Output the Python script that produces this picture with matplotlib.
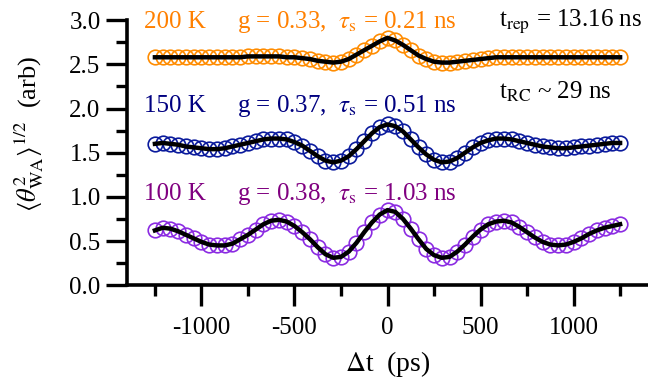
import numpy as np
import matplotlib.pyplot as plt

plt.rcParams['font.family'] = 'serif'
plt.rcParams['font.serif'] = ['Liberation Serif', 'DejaVu Serif']
plt.rcParams['mathtext.fontset'] = 'stix'
plt.rcParams['axes.unicode_minus'] = False

# delay grid (ps)
dt = np.linspace(-1250, 1250, 61)

y_200K = [2.58, 2.58, 2.58, 2.58, 2.58, 2.58, 2.58, 2.58, 2.58, 2.58,
          2.58, 2.58, 2.59, 2.59, 2.59, 2.59, 2.59, 2.58, 2.58, 2.57,
          2.56, 2.54, 2.53, 2.52, 2.53, 2.56, 2.61, 2.66, 2.71, 2.76,
          2.80, 2.77, 2.72, 2.66, 2.60, 2.56, 2.53, 2.52, 2.52, 2.53,
          2.54, 2.55, 2.56, 2.57, 2.58, 2.58, 2.58, 2.58, 2.58, 2.58,
          2.58, 2.58, 2.58, 2.58, 2.58, 2.58, 2.58, 2.58, 2.58, 2.58, 2.58]
y_150K = [1.60, 1.61, 1.60, 1.59, 1.57, 1.56, 1.55, 1.54, 1.54, 1.55,
          1.57, 1.59, 1.61, 1.63, 1.65, 1.66, 1.66, 1.65, 1.62, 1.58,
          1.52, 1.46, 1.41, 1.39, 1.41, 1.46, 1.54, 1.63, 1.72, 1.79,
          1.82, 1.80, 1.74, 1.65, 1.56, 1.48, 1.42, 1.39, 1.40, 1.44,
          1.50, 1.56, 1.61, 1.64, 1.66, 1.66, 1.65, 1.63, 1.61, 1.59,
          1.57, 1.56, 1.55, 1.55, 1.56, 1.57, 1.58, 1.59, 1.60, 1.61, 1.61]
y_100K = [0.62, 0.65, 0.64, 0.61, 0.57, 0.53, 0.49, 0.46, 0.45, 0.45,
          0.47, 0.52, 0.57, 0.63, 0.69, 0.73, 0.74, 0.72, 0.67, 0.60,
          0.52, 0.43, 0.35, 0.31, 0.32, 0.38, 0.48, 0.60, 0.71, 0.80,
          0.85, 0.83, 0.75, 0.64, 0.52, 0.41, 0.34, 0.31, 0.32, 0.38,
          0.46, 0.55, 0.63, 0.69, 0.72, 0.73, 0.71, 0.66, 0.60, 0.54,
          0.49, 0.46, 0.45, 0.46, 0.49, 0.53, 0.58, 0.62, 0.65, 0.67, 0.69]

series = [
    (y_200K, '#ff8c00', '#ff8000', '200 K', 'g = 0.33,  $\\tau_{\\rm s}$ = 0.21 ns', 2.98),
    (y_150K, '#0a1a9c', '#000080', '150 K', 'g = 0.37,  $\\tau_{\\rm s}$ = 0.51 ns', 2.03),
    (y_100K, '#8b2be2', '#800080', '100 K', 'g = 0.38,  $\\tau_{\\rm s}$ = 1.03 ns', 1.03),
]

fig = plt.figure(figsize=(6.48, 3.88), dpi=100)
ax = fig.add_axes([0.196, 0.265, 0.804, 0.683])

for y, mc, tc, temp, par, ty in series:
    ax.plot(dt, y, 'o', mfc='none', mec=mc, mew=1.2, ms=10.5, zorder=2)
    ax.plot(dt, y, '-', color='black', lw=3.2, zorder=3)
    ax.text(-1310, ty, temp, color=tc, fontsize=18, va='center')
    ax.text(-810, ty, par, color=tc, fontsize=18, va='center')

ax.text(600, 2.98, 't$_{\\rm rep}$ = 13.16 ns', fontsize=18, va='center')
ax.text(600, 2.19, 't$_{\\rm RC}$ ~ 29 ns', fontsize=18, va='center')

ax.set_xlim(-1400, 1400)
ax.set_ylim(0, 3.0)
ax.set_xticks([-1000, -500, 0, 500, 1000])
ax.set_xticks([-1250, -750, -250, 250, 750, 1250], minor=True)
ax.set_yticks([0, 0.5, 1.0, 1.5, 2.0, 2.5, 3.0])
ax.set_yticks([0.25, 0.75, 1.25, 1.75, 2.25, 2.75], minor=True)
ax.set_yticklabels(['0.0', '0.5', '1.0', '1.5', '2.0', '2.5', '3.0'])

for s in ['top', 'right']:
    ax.spines[s].set_visible(False)
for s in ['left', 'bottom']:
    ax.spines[s].set_linewidth(2.6)
ax.tick_params(which='major', direction='out', length=15, width=2.4, labelsize=18, pad=4)
ax.tick_params(axis='x', which='major', pad=8)
ax.tick_params(which='minor', direction='out', length=8, width=2.4)

ax.set_xlabel('$\\Delta$t  (ps)', fontsize=20, labelpad=7)
ax.set_ylabel('$\\langle\\theta^{2}_{\\rm WA}\\rangle^{1/2}$  (arb)', fontsize=19)
ax.yaxis.set_label_coords(-0.155, 0.57)

fig.savefig('out.png', dpi=100)
